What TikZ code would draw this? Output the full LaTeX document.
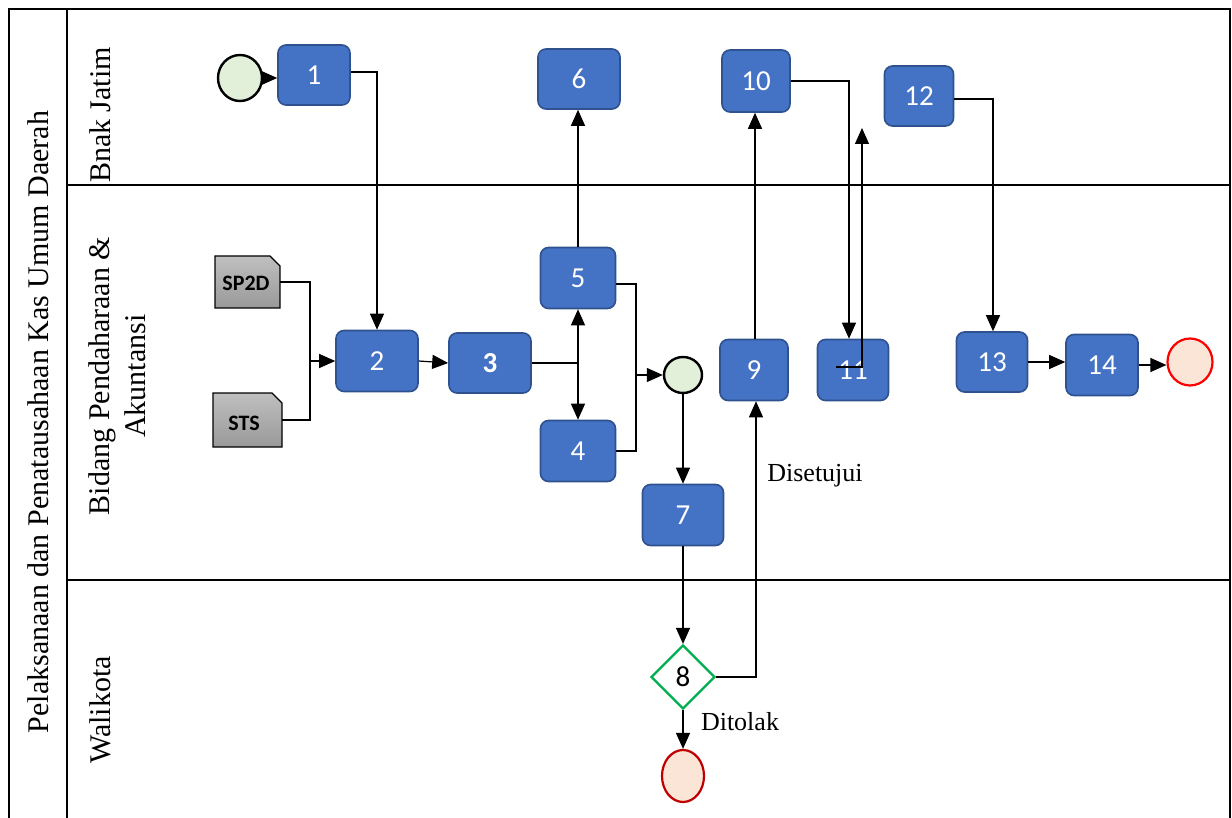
\documentclass[tikz,border=0pt]{standalone}
\usepackage{fontspec}
\setmainfont{Liberation Serif}
\newfontfamily\boxfont{Carlito}
\usetikzlibrary{shapes.geometric,arrows.meta,calc}
\definecolor{boxblue}{HTML}{4472C4}
\definecolor{boxedge}{HTML}{2F528F}
\definecolor{startfill}{HTML}{E2F0D9}
\definecolor{endfill}{HTML}{FBE5D6}
\definecolor{endred}{HTML}{FF0000}
\definecolor{enddark}{HTML}{C00000}
\definecolor{decgreen}{HTML}{00B050}
\tikzset{
  task/.style={draw=boxedge, line width=1.6pt, fill=boxblue, rounded corners=8pt,
    text=white, font=\boxfont\fontsize{29}{34}\selectfont, inner sep=0pt},
  startev/.style={ellipse, draw=black, line width=2.4pt, fill=startfill, inner sep=0pt},
  endev/.style={ellipse, draw=endred, line width=2.2pt, fill=endfill, inner sep=0pt},
  docshape/.style={draw=black, line width=1.4pt, top color=gray!50, bottom color=gray!80},
  doctext/.style={font=\boxfont\bfseries\fontsize{22}{26}\selectfont, text=black},
  decision/.style={diamond, draw=decgreen, line width=2.2pt, fill=white, inner sep=0pt,
    minimum width=64pt, minimum height=64pt, font=\boxfont\fontsize{29}{34}\selectfont},
  lanetxt/.style={rotate=90, font=\fontsize{30}{36}\selectfont, align=center},
  conn/.style={line width=1.2pt, draw=black},
  arr/.style={conn, -{Triangle[length=16pt,width=14pt]}},
  lbl/.style={font=\fontsize{26}{30}\selectfont}
}
\begin{document}
\begin{tikzpicture}[x=1pt,y=-1pt]
\useasboundingbox (0,0) rectangle (1232,818);
% pool frame
\draw[line width=2pt] (9,818) -- (9,9) -- (1230,9) -- (1230,818);
\draw[line width=2pt] (67,9) -- (67,818);
\draw[line width=2pt] (67,185) -- (1230,185);
\draw[line width=2pt] (67,580) -- (1230,580);
% labels
\node[lanetxt] (title) at (38,422) {Pelaksanaan dan Penatausahaan Kas Umum Daerah};
\node[lanetxt] (laneA) at (100,115) {Bnak Jatim};
\node[lanetxt] (laneB) at (117,376) {Bidang Pendaharaan \&\\Akuntansi};
\node[lanetxt] (laneC) at (100,710) {Walikota};
% documents
\draw[docshape] (215,256) -- (270,256) -- (280,266) -- (280,308) -- (215,308) -- cycle;
\node[doctext] (sp) at (246,283) {SP2D};
\draw[docshape] (213,393) -- (272,393) -- (282,403) -- (282,447) -- (213,447) -- cycle;
\node[doctext] (sts) at (244,423) {STS};
\coordinate (spR) at (280,282);
\coordinate (stsR) at (282,420);
% events
\node[startev, minimum width=44pt, minimum height=46pt] (st) at (240,78) {};
\node[startev, minimum width=38pt, minimum height=36pt] (c1) at (683,375) {};
\node[endev, minimum width=45pt, minimum height=47pt] (e1) at (1190,362) {};
\node[endev, draw=enddark, minimum width=42pt, minimum height=52pt] (e2) at (683,776) {};
% tasks
\node[task, minimum width=72pt, minimum height=60pt] (n1) at (314,75) {1};
\node[task, minimum width=82pt, minimum height=60pt] (n6) at (579,79) {6};
\node[task, minimum width=68pt, minimum height=62pt] (n10) at (756,81) {10};
\node[task, minimum width=69pt, minimum height=60pt] (n12) at (919,96) {12};
\node[task, minimum width=82pt, minimum height=61pt] (n2) at (377,361) {2};
\node[task, minimum width=82pt, minimum height=60pt] (n3) at (490,363) {\bfseries 3};
\node[task, minimum width=75pt, minimum height=61pt] (n5) at (578,278) {5};
\node[task, minimum width=75pt, minimum height=61pt] (n4) at (578,451) {4};
\node[task, minimum width=81pt, minimum height=61pt] (n7) at (683,515) {7};
\node[task, minimum width=68pt, minimum height=61pt] (n9) at (754,370) {9};
\node[task, minimum width=71pt, minimum height=61pt] (n11) at (853,370) {11};
\node[task, minimum width=71pt, minimum height=60pt] (n13) at (992,362) {13};
\node[task, minimum width=72pt, minimum height=61pt] (n14) at (1102,365) {14};
\node[decision] (d8) at (683,677) {8};
% connectors
\draw[arr] (st.east) -- (st.east -| n1.west);
\draw[arr] ([yshift=3pt]n1.east) -| (n2.north);
\coordinate (j1) at (310,361);
\draw[conn] (spR) -| (j1);
\draw[conn] (stsR) -| (j1);
\draw[arr] (j1) -- (n2.west);
\draw[arr] (n2.east) -- (n3.west);
\coordinate (j2) at (n3.east -| n5.south);
\draw[conn] (n3.east) -- (j2);
\draw[arr] (j2) -- (n5.south);
\draw[arr] (j2) -- (n4.north);
\draw[arr] (n5.north) -- (n5.north |- n6.south);
\coordinate (j3) at (636,375);
\draw[conn] ([yshift=-6pt]n5.east) -| (j3);
\draw[conn] (n4.east) -| (j3);
\draw[arr] (j3) -- (c1.west);
\draw[arr] (c1.south) -- (n7.north);
\draw[arr] (n7.south) -- (d8.north);
\draw[arr] (d8.east) -| ([xshift=2pt]n9.south);
\draw[arr] (d8.south) -- (e2.north);
\draw[arr] ([xshift=1pt]n9.north) -- ([xshift=1pt]n9.north |- n10.south);
\draw[arr] (n10.east) -| ([xshift=-4pt]n11.north);
\coordinate (l11a) at (836,367);
\coordinate (l11b) at (862,128);
\draw[arr] (l11a) -| (l11b);
\draw[arr] ([yshift=-3pt]n12.east) -| ([xshift=1pt]n13.north);
\draw[arr] (n13.east) -- (n13.east -| n14.west);
\draw[arr] (n14.east) -- (n14.east -| e1.west);
% branch labels
\node[lbl] (yes) at (815,476) {Disetujui};
\node[lbl] (no) at (740,722) {Ditolak};
\end{tikzpicture}
\end{document}
